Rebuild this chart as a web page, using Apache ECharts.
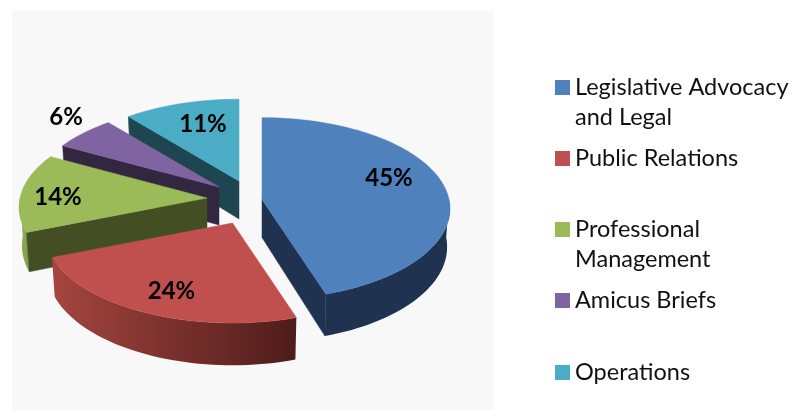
<!DOCTYPE html>
<html>
<head>
<meta charset="utf-8">
<style>html,body{margin:0;background:#fff}#chart{width:807px;height:410px}</style>
<script src="https://cdn.jsdelivr.net/npm/echarts@6/dist/echarts.min.js"></script>
</head>
<body>
<div id="chart"></div>
<script>
const categories = ["Legislative Advocacy\nand Legal", "Public Relations", "Professional\nManagement", "Amicus Briefs", "Operations"];
const shares = [45, 24, 14, 6, 11];
const drawOrder = [4, 3, 2, 0, 1];

const topColors = ["#4f81bd", "#c0504d", "#9bbb59", "#8064a2", "#4bacc6"];
const edgeColors = ["#1f3350", "#4e1d1c", "#434e23", "#332641", "#1e4650"];
const rimColors = [["#1f3350", "#1f3350"], ["#a5453f", "#4e1c1b"], ["#94b355", "#7f994a"], ["#332641", "#332641"], ["#1e4650", "#1e4650"]];

// where each exploded slice's tip ends up, and its label relative to that tip
const tips = [[262, 199.5], [232.5, 223], [207, 198], [219, 187], [239, 181]];
const labelShift = [[127, -21], [-61, 68], [-149, -1], [-153, -70], [-36, -57]];
const radius = 187, flatten = 90, persp = 0.1, depth = 38, bottomScale = 0.985;
const legendCenters = [87.5, 158.5, 229.5, 300.5, 372.5];
const legendLine = 30;

const toRad = d => d * Math.PI / 180;
// clockwise angle from 12 o'clock to a point on the tilted disc
const project = a => {
  const X = Math.sin(a), Y = -Math.cos(a), s = 1 / (1 - persp * Y);
  return [X * radius * s, Y * flatten * s, s];
};

const total = shares.reduce((a, b) => a + b, 0);
let run = 0;
const spans = shares.map(v => {
  const start = run / total * 360;
  run += v;
  return [start, run / total * 360];
});

function arcPoints(from, to) {
  const n = Math.max(2, Math.ceil((to - from) / 2));
  const pts = [];
  for (let k = 0; k <= n; k++) pts.push(project(toRad(from + (to - from) * k / n)));
  return pts;
}

function renderSlice(i) {
  const [tx, ty] = tips[i];
  const [start, end] = spans[i];
  const tip = [0, 0, 1];
  const up = p => [tx + p[0], ty + p[1]];
  const down = p => [tx + p[0] * bottomScale, ty + p[1] + depth * p[2]];
  const children = [];
  const poly = (points, fill) => children.push({
    type: "polygon",
    shape: { points },
    style: { fill, stroke: typeof fill === "string" ? fill : null, lineWidth: 0.5 }
  });

  // outer rim, only the part that faces the viewer
  const from = Math.max(start, 90), to = Math.min(end, 270);
  if (to > from) {
    const arc = arcPoints(from, to);
    poly(arc.map(up).concat(arc.slice().reverse().map(down)), new echarts.graphic.LinearGradient(0, 0, 1, 0, [
      { offset: 0, color: rimColors[i][0] },
      { offset: 1, color: rimColors[i][1] }
    ]));
  }
  // cut faces
  if (Math.sin(toRad(start)) < -1e-6) {
    const p = project(toRad(start));
    poly([up(tip), up(p), down(p), down(tip)], edgeColors[i]);
  }
  if (Math.sin(toRad(end)) > 1e-6) {
    const p = project(toRad(end));
    poly([up(tip), up(p), down(p), down(tip)], edgeColors[i]);
  }
  // top face
  poly([up(tip)].concat(arcPoints(start, end).map(up)), topColors[i]);
  children.push({
    type: "text",
    z2: 10,
    style: {
      text: shares[i] + "%",
      x: tx + labelShift[i][0],
      y: ty + labelShift[i][1],
      align: "center",
      verticalAlign: "middle",
      font: "bold 24px Lato",
      fill: "#000"
    }
  });
  return { type: "group", children };
}

const option = {
  animation: false,
  backgroundColor: "#fff",
  graphic: [{
    type: "rect",
    z: -1,
    shape: { x: 12, y: 11, width: 482, height: 399 },
    style: { fill: "#f8f8f8" }
  }],
  // one legend per entry: the rows are evenly spaced whatever their line count,
  // and a leading blank line keeps the swatch level with the first text line
  legend: categories.map((name, i) => {
    const wrapped = name.includes("\n");
    return {
      data: [{ name, icon: "rect" }],
      left: 555,
      top: legendCenters[i] - (wrapped ? 3 : 1) * legendLine / 2,
      itemWidth: 15,
      itemHeight: 15,
      itemGap: 0,
      padding: 0,
      selectedMode: false,
      formatter: n => (wrapped ? "\n" + n : n),
      textStyle: {
        fontFamily: "Lato",
        fontSize: 23.5,
        lineHeight: legendLine,
        color: "#111"
      }
    };
  }),
  series: drawOrder.map(i => ({
    type: "custom",
    name: categories[i],
    coordinateSystem: "none",
    itemStyle: { color: topColors[i] },
    silent: true,
    z: 2,
    data: [shares[i]],
    renderItem: () => renderSlice(i)
  }))
};

const chart = echarts.init(document.getElementById("chart"));
chart.setOption(option);
</script>
</body>
</html>
